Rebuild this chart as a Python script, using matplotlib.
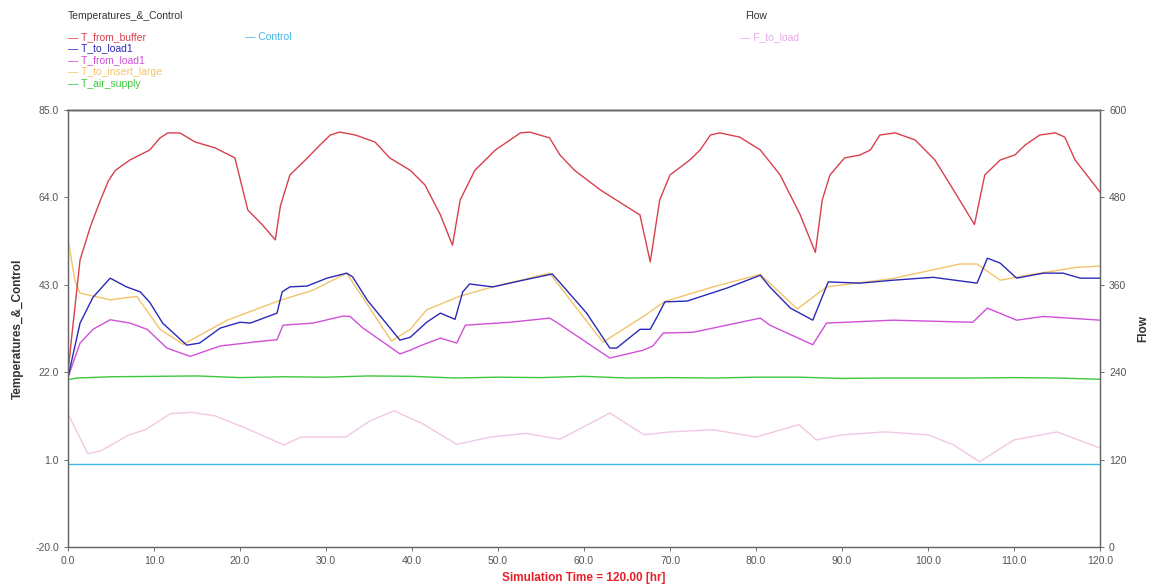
import matplotlib
matplotlib.use("Agg")
import matplotlib.pyplot as plt

# ---------------- data ----------------
t_buffer = [0, 0.4, 1.4, 2.6, 3.7, 4.7, 5.5, 7.2, 9.5, 10.7, 11.6, 13.0, 14.8, 17.1, 19.4,
            20.9, 22.6, 24.1, 24.7, 25.8, 27.6, 29.3, 30.5, 31.6, 33.4, 35.7, 37.4, 39.8,
            41.5, 43.3, 44.7, 45.6, 47.3, 49.7, 51.4, 52.6, 53.7, 56.0, 57.2, 58.9, 61.9,
            64.8, 66.5, 67.7, 68.8, 70.0, 72.3, 73.5, 74.7, 75.8, 78.1, 80.5, 82.8, 85.1,
            86.9, 87.7, 88.6, 90.3, 92.1, 93.3, 94.4, 96.2, 98.5, 100.8, 102.6, 105.4,
            106.6, 108.4, 110.1, 111.3, 113.0, 114.8, 115.9, 117.1, 120.0]
T_from_buffer = [22.0, 30.0, 49.0, 57.0, 63.0, 68.0, 70.5, 73.0, 75.4, 78.3, 79.5, 79.5, 77.3,
                 75.9, 73.5, 61.0, 57.4, 53.8, 62.0, 69.4, 73.0, 76.6, 79.0, 79.7, 79.0, 77.3,
                 73.5, 70.5, 67.0, 59.8, 52.5, 63.4, 70.5, 75.4, 77.8, 79.5, 79.7, 78.3, 74.2,
                 70.5, 65.8, 62.0, 59.8, 48.5, 63.4, 69.4, 73.0, 75.4, 79.0, 79.5, 78.5, 75.4,
                 69.4, 60.0, 50.8, 63.4, 69.4, 73.5, 74.2, 75.4, 79.0, 79.5, 77.8, 73.0, 67.0,
                 57.5, 69.4, 73.0, 74.2, 76.6, 79.0, 79.5, 78.5, 73.0, 65.3]

t_load1 = [0, 1.4, 2.9, 4.9, 6.8, 8.4, 9.5, 11.0, 13.8, 15.3, 17.7, 20.0, 21.2, 24.3, 24.9,
           25.8, 27.8, 30.1, 32.4, 33.1, 34.8, 38.6, 39.8, 41.7, 43.3, 45.0, 45.9, 46.7,
           49.4, 52.9, 56.3, 57.0, 60.3, 63.0, 63.8, 66.5, 67.7, 68.5, 69.4, 72.0, 76.6,
           80.5, 81.6, 84.0, 86.6, 88.4, 92.1, 95.9, 100.6, 105.7, 106.9, 108.4, 110.3,
           113.4, 115.7, 117.7, 120.0]
T_to_load1 = [20.8, 33.8, 40.0, 44.6, 42.5, 41.3, 38.8, 33.8, 28.5, 29.0, 32.6, 34.0, 33.8,
              36.2, 41.3, 42.5, 42.7, 44.6, 45.8, 44.9, 39.3, 29.7, 30.4, 34.0, 36.2, 34.7,
              41.3, 43.2, 42.5, 44.1, 45.6, 44.0, 36.2, 27.8, 27.8, 32.3, 32.3, 35.3, 38.9,
              39.1, 42.2, 45.3, 42.5, 37.4, 34.5, 43.7, 43.4, 44.1, 44.8, 43.4, 49.4, 48.2,
              44.6, 45.8, 45.8, 44.6, 44.6]

t_from_load1 = [0, 1.4, 2.9, 4.9, 7.2, 9.2, 11.5, 14.2, 17.7, 22.3, 24.3, 25.0, 28.5, 32.0,
                32.8, 34.3, 38.6, 39.8, 40.9, 43.3, 45.2, 46.2, 51.4, 56.0, 56.8, 63.0, 66.9,
                68.0, 69.2, 72.7, 80.5, 81.6, 86.6, 88.2, 95.9, 105.2, 106.9, 110.3, 113.4,
                120.0]
T_from_load1 = [20.8, 29.0, 32.3, 34.6, 33.8, 32.3, 27.8, 25.8, 28.3, 29.4, 29.8, 33.3, 33.8,
                35.5, 35.4, 32.6, 26.4, 27.3, 28.3, 30.2, 29.0, 33.3, 34.0, 35.0, 34.0, 25.4,
                27.3, 28.3, 31.4, 31.6, 35.0, 33.3, 28.6, 33.8, 34.5, 34.0, 37.4, 34.5, 35.4,
                34.5]

t_insert = [0, 0.8, 1.4, 4.9, 8.0, 10.7, 13.4, 18.5, 24.7, 28.5, 32.4, 37.6, 39.8, 41.7,
            45.6, 49.4, 56.0, 62.2, 66.9, 69.4, 75.0, 80.5, 84.8, 88.2, 95.9, 103.7, 105.7,
            108.4, 111.5, 117.3, 120.0]
T_to_insert_large = [54.0, 44.0, 41.0, 39.4, 40.2, 32.3, 28.7, 34.5, 39.3, 41.7, 45.8, 29.5,
                     32.3, 37.0, 40.3, 42.5, 45.8, 29.2, 35.4, 39.0, 42.5, 45.5, 37.2, 42.5,
                     44.5, 48.0, 48.0, 44.1, 45.3, 47.2, 47.5]

t_air = [0, 1, 5, 10, 15, 20, 25, 30, 35, 40, 45, 50, 55, 60, 65, 70, 75, 80, 85, 90, 95,
         100, 105, 110, 115, 120]
T_air_supply = [20.2, 20.6, 20.9, 21.0, 21.1, 20.7, 20.9, 20.8, 21.1, 21.0, 20.6, 20.8, 20.7,
                21.0, 20.6, 20.7, 20.6, 20.8, 20.8, 20.5, 20.6, 20.6, 20.6, 20.7, 20.6, 20.3]

t_control = [0, 120]
Control = [0.0, 0.0]

t_flow = [0, 2.3, 3.8, 7.1, 9.0, 11.9, 14.3, 17.1, 20.7, 25.1, 27.1, 32.3, 35.1, 37.9, 41.1,
          45.2, 49.2, 53.2, 57.2, 61.9, 63.0, 67.0, 70.0, 75.0, 80.0, 85.0, 87.0, 90.0, 95.0,
          100.0, 103.0, 106.0, 110.0, 115.0, 120.0]
F_to_load = [183, 128, 132, 154, 161, 183, 185, 180, 163, 140, 151, 151, 173, 187, 170, 141,
             151, 156, 148, 177, 184, 154, 158, 161, 151, 168, 147, 154, 158, 154, 140, 117,
             147, 158, 136]

left_ticks = [-20.0, 1.0, 22.0, 43.0, 64.0, 85.0]
right_ticks = [0, 120, 240, 360, 480, 600]
x_ticks = [0, 10, 20, 30, 40, 50, 60, 70, 80, 90, 100, 110, 120]

# ---------------- styling ----------------
c_buffer = "#d8404c"
c_load1 = "#2a2ab8"
c_from_load1 = "#d050d8"
c_insert = "#f2c46a"
c_air = "#3cc83c"
c_control = "#40b8e8"
c_flow = "#f0c8e4"

plt.rcParams['font.family'] = ['Liberation Sans', 'DejaVu Sans']

fig = plt.figure(figsize=(11.55, 5.84), dpi=100)
ax = fig.add_axes([0.0589, 0.0634, 0.8935, 0.7482])
ax2 = ax.twinx()

ax2.plot(t_flow, F_to_load, color=c_flow, lw=1.0, zorder=1)
ax.plot(t_control, Control, color=c_control, lw=1.0)
ax.plot(t_air, T_air_supply, color=c_air, lw=1.0)
ax.plot(t_insert, T_to_insert_large, color=c_insert, lw=1.0)
ax.plot(t_from_load1, T_from_load1, color=c_from_load1, lw=1.0)
ax.plot(t_load1, T_to_load1, color=c_load1, lw=1.0)
ax.plot(t_buffer, T_from_buffer, color=c_buffer, lw=1.0)

ax.set_zorder(ax2.get_zorder() + 1)
ax.patch.set_visible(False)

ax.set_xlim(0, 120)
ax.set_ylim(-20, 85)
ax2.set_ylim(0, 600)
ax.set_xticks(x_ticks)
ax.set_xticklabels([f"{v:.1f}" for v in x_ticks])
ax.set_yticks(left_ticks)
ax.set_yticklabels([f"{v:.1f}" for v in left_ticks])
ax2.set_yticks(right_ticks)
ax2.set_yticklabels([str(v) for v in right_ticks])

for a in (ax, ax2):
    a.tick_params(labelsize=7.5, colors="#555555", length=3, width=0.6)
    for s in a.spines.values():
        s.set_color("#666666")
        s.set_linewidth(0.9)
ax2.spines['top'].set_color("#bbbbbb")
ax2.spines['top'].set_linewidth(2.0)

ax.set_ylabel("Temperatures_&_Control", fontsize=8.5, fontweight="bold", color="#333333",
              labelpad=8)
ax2.set_ylabel("Flow", fontsize=8.5, fontweight="bold", color="#333333", rotation=90,
               labelpad=8)
ax.set_xlabel("Simulation Time = 120.00 [hr]", fontsize=8.5, fontweight="bold",
              color="#e8202a", labelpad=4)

# legend-like header texts
fig.text(0.0589, 0.972, "Temperatures_&_Control", fontsize=7.5, color="#333333",
         va="center", ha="left")
legend_rows = [("T_from_buffer", c_buffer), ("T_to_load1", c_load1),
               ("T_from_load1", c_from_load1), ("T_to_insert_large", c_insert),
               ("T_air_supply", c_air)]
for i, (name, col) in enumerate(legend_rows):
    fig.text(0.0589, 0.937 - i * 0.0200, "— " + name, fontsize=7.5, color=col,
             va="center", ha="left")
fig.text(0.212, 0.937, "— Control", fontsize=7.5, color=c_control, va="center", ha="left")
fig.text(0.645, 0.972, "Flow", fontsize=7.5, color="#333333", va="center", ha="left")
fig.text(0.641, 0.937, "— F_to_load", fontsize=7.5, color="#e8a8e8", va="center", ha="left")

fig.savefig("out.png", dpi=100)
